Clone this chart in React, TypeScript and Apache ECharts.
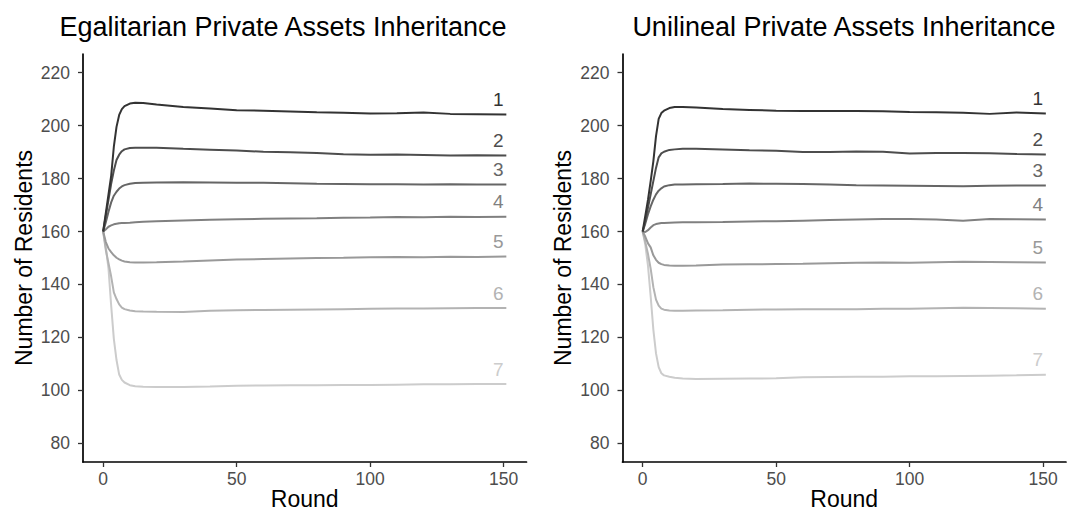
import React, { useEffect, useRef } from "react";
import * as echarts from "echarts";

const ROUNDS = [0, 1, 2, 3, 4, 5, 6, 7, 8, 10, 12, 15, 20, 30, 40, 50, 60, 70, 80, 90, 100, 110, 120, 130, 140, 151];

const X_TICKS = [0, 50, 100, 150];
const Y_TICKS = [80, 100, 120, 140, 160, 180, 200, 220];

const LABELS = ["1", "2", "3", "4", "5", "6", "7"];
const COLORS = ["#333333", "#4D4D4D", "#666666", "#808080", "#999999", "#B3B3B3", "#CCCCCC"];

// Egalitarian Private Assets Inheritance
const EGAL_1 = [160, 167, 174, 181, 192, 199.5, 204, 206.2, 207.3, 208.3, 208.6, 208.5, 207.9, 207.0, 206.4, 205.8, 205.6, 205.3, 205.0, 204.8, 204.5, 204.6, 204.9, 204.4, 204.3, 204.2];
const EGAL_2 = [160, 166, 172, 178, 183, 187, 189, 190.3, 191, 191.5, 191.6, 191.6, 191.6, 191.2, 190.9, 190.6, 190.1, 189.9, 189.6, 189.2, 189.0, 189.1, 188.9, 188.7, 188.8, 188.7];
const EGAL_3 = [160, 163.5, 167.5, 171, 173.5, 175, 176.2, 177, 177.5, 178, 178.3, 178.4, 178.5, 178.6, 178.5, 178.4, 178.4, 178.2, 178.0, 177.9, 177.8, 177.8, 177.7, 177.8, 177.7, 177.7];
const EGAL_4 = [160, 160.8, 161.8, 162.3, 162.7, 162.9, 163.1, 163.2, 163.2, 163.3, 163.5, 163.7, 163.9, 164.2, 164.4, 164.6, 164.8, 164.9, 165.0, 165.2, 165.3, 165.5, 165.4, 165.6, 165.5, 165.6];
const EGAL_5 = [160, 156, 153.6, 152.2, 151, 150.1, 149.5, 149, 148.7, 148.4, 148.3, 148.3, 148.4, 148.7, 149.1, 149.4, 149.6, 149.8, 150.0, 150.1, 150.3, 150.4, 150.3, 150.5, 150.4, 150.6];
const EGAL_6 = [160, 153, 148, 143, 137, 134.5, 132.5, 131.3, 130.7, 130.2, 129.9, 129.8, 129.7, 129.6, 130.1, 130.3, 130.4, 130.5, 130.6, 130.7, 130.8, 130.9, 130.9, 131.0, 131.1, 131.1];
const EGAL_7 = [160, 154, 146, 132, 119.5, 111.5, 106, 104, 103, 102, 101.6, 101.4, 101.3, 101.3, 101.5, 101.8, 101.9, 102.0, 102.0, 102.1, 102.1, 102.2, 102.3, 102.3, 102.4, 102.4];

// Unilineal Private Assets Inheritance
const UNI_1 = [160, 166, 172, 179, 186.5, 196, 202.5, 204.7, 205.6, 206.6, 207, 207, 206.8, 206.2, 205.9, 205.6, 205.5, 205.5, 205.5, 205.4, 205.1, 205.0, 204.8, 204.4, 204.9, 204.5];
const UNI_2 = [160, 164, 169, 174, 179, 184, 188, 189.5, 190.1, 190.8, 191.0, 191.2, 191.2, 191.0, 190.7, 190.5, 190.0, 190.0, 190.2, 190.1, 189.4, 189.6, 189.6, 189.5, 189.3, 189.1];
const UNI_3 = [160, 163, 166.5, 169.5, 172, 174, 175.4, 176.3, 177, 177.5, 177.7, 177.7, 177.8, 177.9, 178.1, 178.0, 177.9, 177.7, 177.5, 177.4, 177.3, 177.2, 177.1, 177.3, 177.4, 177.4];
const UNI_4 = [160, 159.8, 160.5, 161.5, 162.4, 162.8, 163.0, 163.2, 163.2, 163.3, 163.4, 163.5, 163.5, 163.6, 163.8, 163.9, 164.1, 164.3, 164.5, 164.7, 164.7, 164.5, 164.1, 164.7, 164.6, 164.5];
const UNI_5 = [160, 158, 155.5, 154, 151, 149.3, 148.2, 147.7, 147.4, 147.2, 147.1, 147.1, 147.2, 147.5, 147.6, 147.7, 147.8, 148.0, 148.2, 148.3, 148.2, 148.4, 148.6, 148.5, 148.4, 148.3];
const UNI_6 = [160, 156, 151.5, 146, 139, 134.3, 132, 130.9, 130.5, 130.2, 130.1, 130.1, 130.2, 130.3, 130.5, 130.6, 130.7, 130.7, 130.7, 130.8, 130.8, 131.0, 131.2, 131.1, 131.0, 130.8];
const UNI_7 = [160, 155, 147, 135.5, 123, 114, 108.8, 106.5, 105.7, 105.2, 104.8, 104.5, 104.3, 104.4, 104.5, 104.6, 105.0, 105.1, 105.2, 105.2, 105.4, 105.4, 105.5, 105.6, 105.7, 105.9];

const EGAL = [EGAL_1, EGAL_2, EGAL_3, EGAL_4, EGAL_5, EGAL_6, EGAL_7];
const UNI = [UNI_1, UNI_2, UNI_3, UNI_4, UNI_5, UNI_6, UNI_7];

const TITLES = ["Egalitarian Private Assets Inheritance", "Unilineal Private Assets Inheritance"];
const X_NAME = "Round";
const Y_NAME = "Number of Residents";

const FONT = "'Liberation Sans', Arial, Helvetica, sans-serif";

export default function App() {
  const ref = useRef<HTMLDivElement>(null);

  useEffect(() => {
    if (!ref.current) return;
    const chart = echarts.init(ref.current, undefined, { renderer: "svg" });

    const grids = [
      { left: 83, top: 54, width: 443.5, height: 408, containLabel: false, outerBoundsMode: "none" },
      { left: 622.5, top: 54, width: 443.5, height: 408, containLabel: false, outerBoundsMode: "none" },
    ];

    const xAxes = grids.map((_, i) => ({
      type: "value",
      gridIndex: i,
      min: -7.55,
      max: 158.55,
      axisLine: { show: true, onZero: false, lineStyle: { color: "#000", width: 1.7 } },
      axisTick: { show: true, customValues: X_TICKS, length: 5, lineStyle: { color: "#333", width: 1.3 } },
      axisLabel: { customValues: X_TICKS, color: "#4D4D4D", fontSize: 17.5, margin: 8, fontFamily: FONT },
      splitLine: { show: false },
      name: X_NAME,
      nameLocation: "middle",
      nameGap: 25,
      nameMoveOverlap: false,
      nameTextStyle: { fontSize: 23, color: "#000", fontFamily: FONT },
    }));

    const yAxes = grids.map((_, i) => ({
      type: "value",
      gridIndex: i,
      min: 73,
      max: 227,
      axisLine: { show: true, onZero: false, lineStyle: { color: "#000", width: 1.7 } },
      axisTick: { show: true, customValues: Y_TICKS, length: 5, lineStyle: { color: "#333", width: 1.3 } },
      axisLabel: { customValues: Y_TICKS, color: "#4D4D4D", fontSize: 17.5, margin: 13, fontFamily: FONT },
      splitLine: { show: false },
      name: Y_NAME,
      nameLocation: "middle",
      nameGap: 48,
      nameMoveOverlap: false,
      nameTextStyle: { fontSize: 23, color: "#000", fontFamily: FONT },
    }));

    const series: any[] = [];
    [EGAL, UNI].forEach((group, gi) => {
      group.forEach((vals, li) => {
        series.push({
          type: "line",
          name: LABELS[li],
          xAxisIndex: gi,
          yAxisIndex: gi,
          data: ROUNDS.map((r, k) => [r, vals[k]]),
          showSymbol: false,
          symbol: "none",
          lineStyle: { color: COLORS[li], width: 2 },
          itemStyle: { color: COLORS[li] },
          z: 10 - li,
          endLabel: {
            show: true,
            formatter: LABELS[li],
            distance: 0,
            align: "center",
            verticalAlign: "middle",
            offset: [-8, -15],
            color: COLORS[li],
            fontSize: 19,
            fontFamily: FONT,
          },
        });
      });
    });

    chart.setOption({
      animation: false,
      backgroundColor: "#fff",
      grid: grids,
      xAxis: xAxes,
      yAxis: yAxes,
      series,
      graphic: [
        {
          type: "text",
          style: { text: TITLES[0], x: 283, y: 27, align: "center", verticalAlign: "middle", fontSize: 27, fill: "#000", fontFamily: FONT },
        },
        {
          type: "text",
          style: { text: TITLES[1], x: 844, y: 27, align: "center", verticalAlign: "middle", fontSize: 27, fill: "#000", fontFamily: FONT },
        },
      ],
    });

    return () => chart.dispose();
  }, []);

  return (
    <div
      ref={ref}
      style={{ position: "absolute", left: 0, top: 0, width: 1070, height: 515, background: "#fff" }}
    />
  );
}
